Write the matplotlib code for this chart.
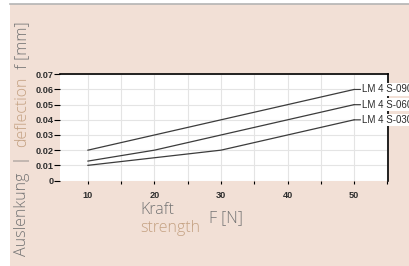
import matplotlib
matplotlib.use("Agg")
import matplotlib.pyplot as plt
from matplotlib.patches import Rectangle
from matplotlib.lines import Line2D

# ── data ─────────────────────────────────────────────
force = [10, 20, 30, 40, 50]
s090 = [0.020, 0.030, 0.040, 0.050, 0.060]
s060 = [0.0128, 0.020, 0.030, 0.040, 0.050]
s030 = [0.010, 0.015, 0.020, 0.030, 0.040]
series = [("LM 4 S-090", s090), ("LM 4 S-060", s060), ("LM 4 S-030", s030)]
yticks = [0, 0.01, 0.02, 0.03, 0.04, 0.05, 0.06, 0.07]
ytick_labels = ["0", "0.01", "0.02", "0.03", "0.04", "0.05", "0.06", "0.07"]

BG = "#f2e0d6"
TAN = "#c4a182"
GREY = "#747474"
FS = 11.5

fig = plt.figure(figsize=(4.09, 2.66), dpi=100, facecolor="white")
W, H = 409, 266
# beige panel + grey top rule
fig.patches.append(Rectangle((10 / W, 0), 1, 1 - 4 / H, transform=fig.transFigure,
                             facecolor=BG, edgecolor="none", zorder=-10))
fig.lines.append(Line2D([10 / W, 1], [1 - 3.5 / H, 1 - 3.5 / H], transform=fig.transFigure,
                        color="#b4b4b4", lw=1.2, zorder=-9))

ax = fig.add_axes([60 / W, 1 - 180.5 / H, 328 / W, 106.2 / H])
ax.set_facecolor("white")
ax.set_xlim(5.8, 55.1)
ax.set_ylim(0, 0.07)

for name, vals in series:
    ax.plot(force, vals, color="#3c3c3c", lw=0.9, zorder=3)
    ax.annotate(name, xy=(force[-1], vals[-1]), xytext=(5.5, 0), textcoords="offset points",
                va="center", ha="left", fontsize=7, family="Liberation Sans", color="#2a2a2a",
                annotation_clip=False, zorder=5,
                bbox=dict(boxstyle="square,pad=0.12", fc="white", ec="none"),
                arrowprops=dict(arrowstyle="-", color="#3c3c3c", lw=0.8,
                                shrinkA=0, shrinkB=0))

ax.set_xticks([10, 20, 30, 40, 50])
ax.set_xticks([15, 25, 35, 45, 55], minor=True)
ax.set_yticks(yticks)
ax.set_yticklabels(ytick_labels)
ax.grid(True, which="both", color="#e4e4e4", lw=0.8, zorder=0)
ax.set_axisbelow(True)
for lab in ax.get_xticklabels() + ax.get_yticklabels():
    lab.set_family("Liberation Sans")
    lab.set_fontsize(6.6)
    lab.set_color("#2e2e2e")
    lab.set_fontweight("bold")
ax.tick_params(axis="y", length=4, width=0.8, pad=0.8)
ax.tick_params(axis="x", which="both", length=2, width=0.8, pad=5.5)
for s in ["left", "bottom"]:
    ax.spines[s].set_visible(False)
for s in ["top", "right"]:
    ax.spines[s].set_color("black")
    ax.spines[s].set_linewidth(1.2)

# rotated y label, multi-coloured
ylab = [("Auslenkung  |  ", GREY), ("deflection", TAN), ("  f [mm]", GREY)]
y0 = 256
for txt, c in ylab:
    t = fig.text(22 / W, 1 - y0 / H, txt, rotation=90, ha="center", va="bottom",
                 fontsize=FS, family="Open Sans", fontweight="light", color=c)
    fig.canvas.draw()
    bb = t.get_window_extent()
    y0 -= bb.height

# x label block
fig.text(140 / W, 1 - 210 / H, "Kraft", fontsize=FS, family="Open Sans", fontweight="light",
         color=GREY, va="center", ha="left")
fig.text(140 / W, 1 - 228 / H, "strength", fontsize=FS, family="Open Sans", fontweight="light",
         color=TAN, va="center", ha="left")
fig.text(209 / W, 1 - 218 / H, "F [N]", fontsize=FS, family="Open Sans", fontweight="light",
         color=GREY, va="center", ha="left")

fig.savefig("out.png", dpi=100, facecolor="white")
